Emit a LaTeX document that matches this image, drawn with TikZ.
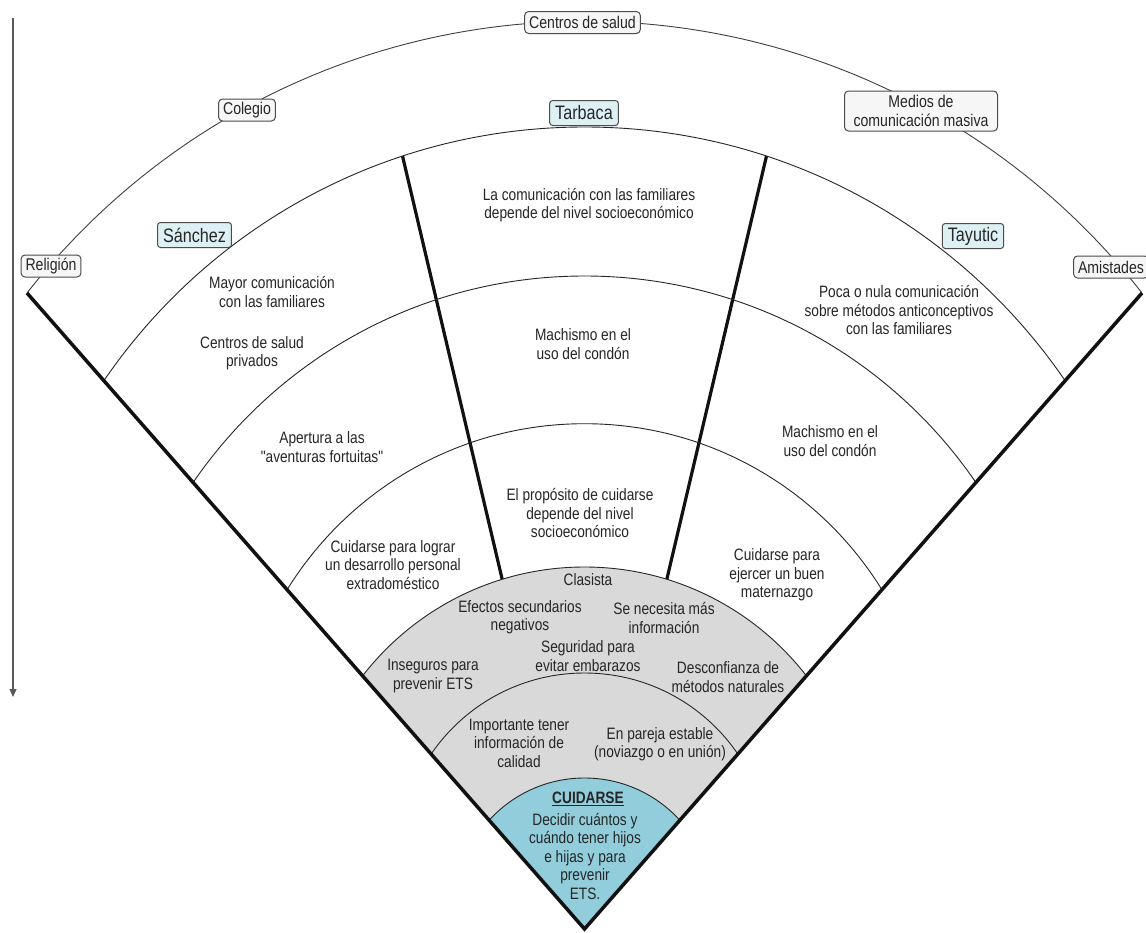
\documentclass[tikz,border=0pt]{standalone}
\usepackage{fontspec}
\setmainfont{Liberation Sans}[FakeStretch=0.83, Ligatures=TeXOff]
\usetikzlibrary{arrows.meta}
\definecolor{txt}{HTML}{262626}
\definecolor{grayfill}{HTML}{D9D9D9}
\definecolor{bluefill}{HTML}{92CDDC}
\definecolor{namefill}{HTML}{DDF0F4}
\definecolor{boxfill}{HTML}{F6F6F6}
\definecolor{edgecol}{HTML}{111111}
\begin{document}
\begin{tikzpicture}[x=1pt,y=-1pt,
  every node/.style={text=txt, font=\fontsize{16.5}{18.5}\selectfont, align=center, inner sep=0pt},
  outerbox/.style={draw=black!70, fill=boxfill, rounded corners=4pt, line width=1pt, inner xsep=4.5pt, inner ysep=0pt, minimum height=22pt, font=\fontsize{17}{19}\selectfont},
  namebox/.style={draw=black!70, fill=namefill, rounded corners=3pt, line width=1pt, inner xsep=5.5pt, inner ysep=0pt, minimum height=25pt, font=\fontsize{19.5}{21}\selectfont},
  thinarc/.style={line width=0.9pt, draw=black!85},
  edgeline/.style={line width=3.5pt, draw=edgecol},
  divider/.style={line width=3.2pt, draw=edgecol}
]
\useasboundingbox (0,0) rectangle (1146,932);
\fill[white] (0,0) rectangle (1146,932);

\coordinate (apex) at (584.5,929);
\coordinate (lc) at (27,293);
\coordinate (rc) at (1142,293);
\coordinate (ldTop) at (402.5,156);
\coordinate (ldBot) at (504,587);
\coordinate (rdTop) at (766.5,156);
\coordinate (rdBot) at (665,587);
\coordinate (arrTop) at (13,18);
\coordinate (arrBot) at (13,697);

% vertical arrow
\draw[-{Triangle[length=8pt,width=7pt]}, line width=1.2pt, black!65] (arrTop) -- (arrBot);

\begin{scope}
  \clip (apex) -- (-530.5,-343) -- (1699.5,-343) -- cycle;
  % sector dividers
  \draw[divider] (ldTop) -- (ldBot);
  \draw[divider] (rdTop) -- (rdBot);
  % fills
  \fill[grayfill] (584.5,847.6) circle[radius=280.6pt];
  \fill[bluefill] (584.5,906.7) circle[radius=128.7pt];
  % arcs
  \draw[thinarc, draw=black!75] (584.5,729) circle[radius=707.7pt];
  \draw[thinarc] (584.5,709) circle[radius=582pt];
  \draw[thinarc] (584.5,750) circle[radius=474pt];
  \draw[thinarc] (584.5,773) circle[radius=349.3pt];
  \draw[thinarc] (584.5,847.6) circle[radius=280.6pt];
  \draw[thinarc] (584.5,858.6) circle[radius=185.6pt];
  \draw[thinarc] (584.5,906.7) circle[radius=128.7pt];
\end{scope}

% fan edges
\draw[edgeline, line join=miter] (lc) -- (apex) -- (rc);

% outer boxes
\node[outerbox] (religion) at (51,266) {Religión};
\node[outerbox] (colegio) at (247,110) {Colegio};
\node[outerbox] (centros) at (582.5,22.5) {Centros de salud};
\node[outerbox, minimum width=153pt, minimum height=40pt] (medios) at (921,111) {Medios de\\comunicación masiva};
\node[outerbox] (amistades) at (1111,267) {Amistades};

% name boxes
\node[namebox] (sanchez) at (194.5,235) {Sánchez};
\node[namebox] (tarbaca) at (584,113) {Tarbaca};
\node[namebox] (tayutic) at (973,236) {Tayutic};

% left sector
\node (s1) at (272,292) {Mayor comunicación\\con las familiares};
\node (s2) at (252,353) {Centros de salud\\privados};
\node (s3) at (322,447) {Apertura a las\\"aventuras fortuitas"};
\node (s4) at (393,565) {Cuidarse para lograr\\un desarrollo personal\\extradoméstico};

% middle sector
\node (m1) at (589,205) {La comunicación con las familiares\\depende del nivel socioeconómico};
\node (m2) at (583,344) {Machismo en el\\uso del condón};
\node (m3) at (580,513) {El propósito de cuidarse\\depende del nivel\\socioeconómico};

% right sector
\node (r1) at (899,310) {Poca o nula comunicación\\sobre métodos anticonceptivos\\con las familiares};
\node (r2) at (830,441) {Machismo en el\\uso del condón};
\node (r3) at (777,575) {Cuidarse para\\ejercer un buen\\maternazgo};

% gray region
\node (g1) at (588,580) {Clasista};
\node (g2) at (520,617) {Efectos secundarios\\negativos};
\node (g3) at (664,618) {Se necesita más\\información};
\node (g4) at (588,656) {Seguridad para\\evitar embarazos};
\node (g5) at (433,676) {Inseguros para\\prevenir ETS};
\node (g6) at (728,677) {Desconfianza de\\métodos naturales};
\node (g7) at (519,743) {Importante tener\\información de\\calidad};
\node (g8) at (660,744) {En pareja estable\\(noviazgo o en unión)};

% blue core
\node (c0) at (588,799) {\bfseries\underline{CUIDARSE}};
\node (c1) at (585,856) {Decidir cuántos y\\cuándo tener hijos\\e hijas y para\\prevenir\\ETS.};
\end{tikzpicture}
\end{document}
